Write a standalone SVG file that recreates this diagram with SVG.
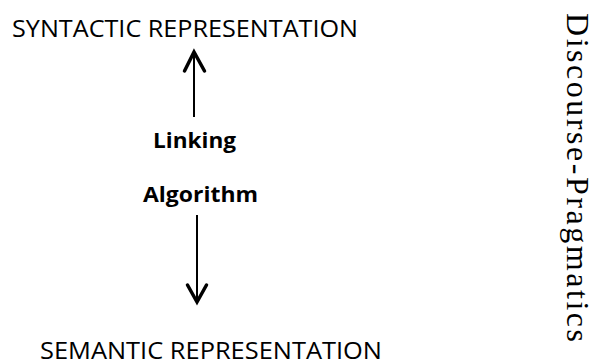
<svg xmlns="http://www.w3.org/2000/svg" width="595" height="362" viewBox="0 0 595 362">
<style>
.lbl{font-family:"Open Sans","Liberation Sans",sans-serif;font-size:24px;fill:#000}
.bold{font-family:"Open Sans","Liberation Sans",sans-serif;font-size:21px;font-weight:bold;fill:#000}
.side{font-family:"Liberation Serif","Times New Roman",serif;font-size:32px;fill:#000}
.shaft{stroke:#000;stroke-width:2;fill:none}
.head{stroke:#000;stroke-width:3.5;fill:none;stroke-linecap:round;stroke-linejoin:miter}
</style>
<rect width="595" height="362" fill="#fff"/>
<g id="syntactic"><text class="lbl" x="12" y="37" textLength="346" lengthAdjust="spacingAndGlyphs">SYNTACTIC REPRESENTATION</text></g>
<g id="linking"><text class="bold" x="153" y="148" textLength="83" lengthAdjust="spacingAndGlyphs">Linking</text>
<text class="bold" x="143" y="202" textLength="115" lengthAdjust="spacingAndGlyphs">Algorithm</text></g>
<g id="semantic"><text class="lbl" x="40" y="359" textLength="342" lengthAdjust="spacingAndGlyphs">SEMANTIC REPRESENTATION</text></g>
<g id="discourse"><text class="side" transform="translate(567,13) rotate(90)" x="0" y="0" textLength="329" lengthAdjust="spacing">Discourse-Pragmatics</text></g>
<g id="connectors">
<line class="shaft" x1="194" y1="53" x2="194" y2="117"/>
<polyline class="head" points="184.5,71 194,52 204.5,71"/>
<line class="shaft" x1="197" y1="215" x2="197" y2="301"/>
<polyline class="head" points="187.5,285 197,302 206.5,285"/>
</g>
</svg>
